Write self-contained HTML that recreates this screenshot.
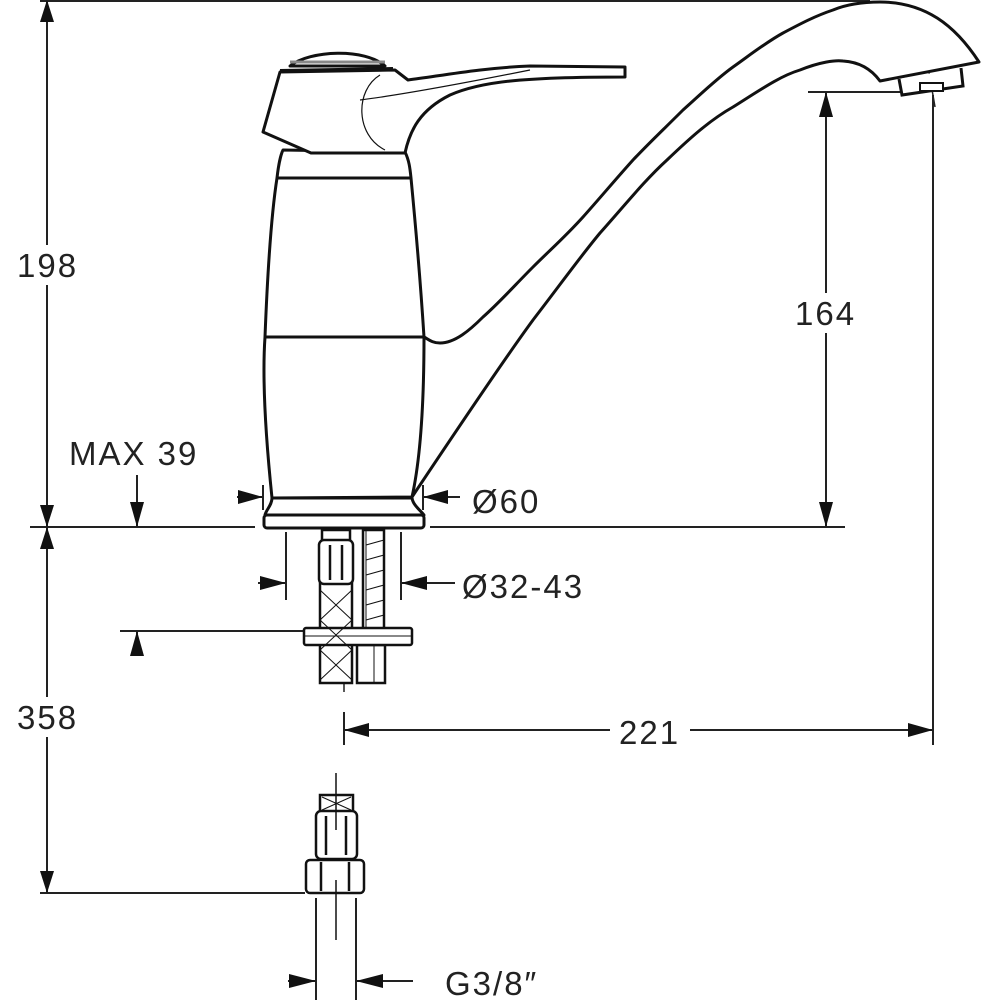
<!DOCTYPE html>
<html><head><meta charset="utf-8"><style>
html,body{margin:0;padding:0;background:#fff}
svg{display:block}
text{font-family:"Liberation Sans",sans-serif;font-size:33px;fill:#222;letter-spacing:2px}
</style></head><body>
<svg width="1000" height="1000" viewBox="0 0 1000 1000" xmlns="http://www.w3.org/2000/svg">
<g stroke="#222" stroke-width="2" fill="none">
<line x1="40" y1="1" x2="870" y2="1"/>
<line x1="47" y1="0" x2="47" y2="893"/>
<line x1="30" y1="527" x2="255" y2="527"/>
<line x1="430" y1="527" x2="845" y2="527"/>
<line x1="40" y1="893" x2="305" y2="893"/>
<line x1="120" y1="631" x2="305" y2="631"/>
<line x1="137" y1="475" x2="137" y2="527"/>
<line x1="137" y1="631" x2="137" y2="656"/>
<line x1="808" y1="92" x2="905" y2="92"/>
<line x1="826" y1="92" x2="826" y2="527"/>
<line x1="933" y1="95" x2="933" y2="745"/>
<line x1="344" y1="712" x2="344" y2="745"/>
<line x1="344" y1="730" x2="610" y2="730"/>
<line x1="690" y1="730" x2="933" y2="730"/>
<line x1="263" y1="485" x2="263" y2="510"/>
<line x1="423" y1="485" x2="423" y2="510"/>
<line x1="237" y1="497" x2="262" y2="497"/>
<line x1="424" y1="497" x2="460" y2="497"/>
<line x1="286" y1="532" x2="286" y2="600"/>
<line x1="401" y1="532" x2="401" y2="600"/>
<line x1="258" y1="583" x2="285" y2="583"/>
<line x1="402" y1="583" x2="455" y2="583"/>
<line x1="316" y1="898" x2="316" y2="1000"/>
<line x1="356" y1="898" x2="356" y2="1000"/>
<line x1="288" y1="981" x2="315" y2="981"/>
<line x1="357" y1="981" x2="413" y2="981"/>
<line x1="344" y1="482" x2="344" y2="692" stroke-width="1.5"/>
<line x1="924" y1="43" x2="935" y2="107" stroke-width="1.5"/>
</g>
<g fill="#111">
<path d="M47,0 L40,22 L54,22z"/>
<path d="M47,527 L40,505 L54,505z"/>
<path d="M47,527 L40,549 L54,549z"/>
<path d="M47,893 L40,871 L54,871z"/>
<path d="M137,527 L130,502 L144,502z"/>
<path d="M137,631 L130,656 L144,656z"/>
<path d="M826,92 L819,117 L833,117z"/>
<path d="M826,527 L819,502 L833,502z"/>
<path d="M344,730 L369,723 L369,737z"/>
<path d="M933,730 L908,723 L908,737z"/>
<path d="M263,497 L238,490 L238,504z"/>
<path d="M423,497 L448,490 L448,504z"/>
<path d="M286,583 L260,576 L260,590z"/>
<path d="M401,583 L427,576 L427,590z"/>
<path d="M316,981 L289,974 L289,988z"/>
<path d="M356,981 L383,974 L383,988z"/>
</g>
<g stroke="#111" stroke-width="3" fill="#fff" stroke-linejoin="round">
<!-- spout -->
<path d="M412,497 C440,455 500,365 533,320 C560,285 580,257 600,233 C625,205 645,180 667,160 C690,138 710,120 733,107 C760,90 780,76 800,70 C820,62 835,60 843,61 C860,62 872,70 880,81 L979,62 C955,25 925,2 880,2 C860,2 845,5 833,10 C815,16 800,24 783,33 C765,43 750,55 733,67 C715,80 700,95 683,110 C665,128 650,142 633,160 C615,180 600,198 583,217 C565,237 550,250 533,267 C515,285 500,302 483,317 C470,330 455,343 440,343 C432,343 428,339 424,337"/>
<!-- body -->
<path d="M272,498 C266,440 262,380 265,337 C268,260 272,210 277,178 C279,160 282,152 283,150 L405,152 C409,160 410,168 411,178 C416,230 421,290 424,337 C424,420 418,470 412,497 Z"/>
<line x1="277" y1="178" x2="411" y2="178"/>
<line x1="265" y1="337" x2="424" y2="337"/>
<path d="M272,498 C272,505 266,510 265,515 L424,515 C420,510 413,505 412,498 Z"/>
<rect x="264" y="515" width="160" height="13" rx="3"/>
<!-- handle -->
<path d="M280,72 L263,132 L311,153 L405,153 C410,130 420,110 450,95 C480,82 520,77 625,77 L625,67 L530,66 C480,68 440,76 408,80 L395,70 Z"/>
<path d="M290,66 C310,50 365,48 385,66 Z"/>
<line x1="280" y1="71" x2="393" y2="69" stroke-width="4"/>
</g>
<g stroke="#111" stroke-width="1.2" fill="none">
<path d="M380,75 C355,90 355,135 385,150"/>
<path d="M360,100 C400,95 470,82 530,70"/>
<path d="M290,62 L385,62" stroke="#888" stroke-width="3"/>
</g>
<g stroke="#111" stroke-width="3" fill="#fff">
<path d="M899,79 L902,95 L963,86 L961,68"/>
<rect x="920" y="83" width="23" height="8" stroke-width="2"/>
</g>
<g stroke="#111" stroke-width="2.5" fill="#fff">
<rect x="320" y="583" width="32" height="100"/>
<rect x="322" y="530" width="28" height="12"/>
<rect x="319" y="540" width="34" height="44" rx="5"/>
<line x1="330" y1="545" x2="330" y2="580"/>
<line x1="342" y1="545" x2="342" y2="580"/>
<rect x="363" y="530" width="21" height="100"/>
<rect x="357" y="645" width="28" height="38"/>
<rect x="304" y="628" width="108" height="17" rx="2"/>
</g>
<g stroke="#111" stroke-width="1" fill="none">
<path d="M320,590 L352,620 M352,590 L320,620 M320,620 L352,650 M352,620 L320,650 M320,650 L352,680 M352,650 L320,680"/>
<path d="M366,545 L384,540 M366,560 L384,555 M366,575 L384,570 M366,590 L384,585 M366,605 L384,600 M366,620 L384,615"/>
<line x1="366" y1="530" x2="366" y2="628"/>
<line x1="374" y1="645" x2="374" y2="683"/>
<line x1="304" y1="636" x2="412" y2="636"/>
</g>
<g stroke="#111" stroke-width="2.5" fill="#fff">
<rect x="320" y="795" width="33" height="17"/>
<rect x="316" y="811" width="41" height="48" rx="5"/>
<line x1="326" y1="816" x2="326" y2="855"/>
<line x1="346" y1="816" x2="346" y2="855"/>
<rect x="306" y="860" width="58" height="33" rx="4"/>
<line x1="321" y1="862" x2="321" y2="891"/>
<line x1="349" y1="862" x2="349" y2="891"/>
</g>
<g stroke="#111" stroke-width="1" fill="none"><path d="M322,797 L351,810 M351,797 L322,810"/></g>
<line x1="336" y1="773" x2="336" y2="830" stroke="#111" stroke-width="1.5"/>
<line x1="336" y1="880" x2="336" y2="940" stroke="#111" stroke-width="1.5"/>
<rect x="15" y="245" width="62" height="40" fill="#fff"/>
<text x="17" y="277">198</text>
<rect x="15" y="697" width="62" height="40" fill="#fff"/>
<text x="17" y="729">358</text>
<rect x="793" y="293" width="60" height="40" fill="#fff"/>
<text x="795" y="325">164</text>
<text x="69" y="465">MAX 39</text>
<text x="619" y="744">221</text>
<text x="472" y="513">Ø60</text>
<text x="462" y="598">Ø32-43</text>
<text x="445" y="995">G3/8″</text>
</svg>
</body></html>
